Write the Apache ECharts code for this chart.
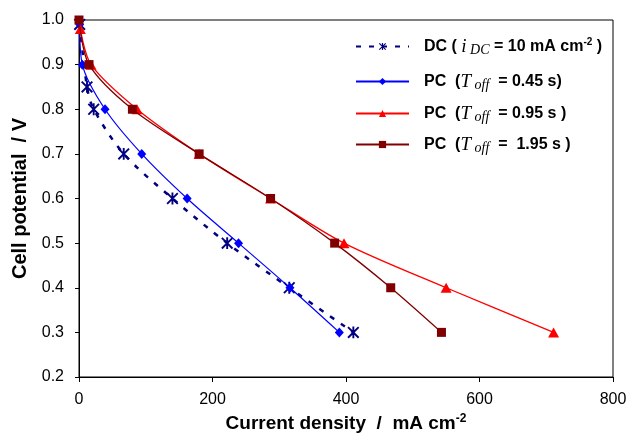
<!DOCTYPE html>
<html><head><meta charset="utf-8">
<script src="https://cdn.jsdelivr.net/npm/echarts@6/dist/echarts.min.js"></script>
<style>html,body{margin:0;padding:0;background:#fff}#c{width:628px;height:433px}</style>
</head><body><div id="c"></div>
<script>
// Data (current density mA cm^-2, cell potential V)
const dcX   = [1, 12, 22, 67, 140, 222, 315, 411];
const dcY   = [0.99, 0.85, 0.80, 0.70, 0.60, 0.50, 0.40, 0.30];
const pc045X = [1, 5, 39, 94, 162, 239, 316, 390];
const pc045Y = [0.99, 0.90, 0.80, 0.70, 0.60, 0.50, 0.40, 0.30];
const pc095X = [2, 18, 87, 180, 287, 397, 550, 711];
const pc095Y = [0.98, 0.90, 0.80, 0.70, 0.60, 0.50, 0.40, 0.30];
const pc195X = [0, 15, 80, 180, 287, 383, 467, 543];
const pc195Y = [1.00, 0.90, 0.80, 0.70, 0.60, 0.50, 0.40, 0.30];
const xTicks = [0, 200, 400, 600, 800];
const yTicks = [0.2, 0.3, 0.4, 0.5, 0.6, 0.7, 0.8, 0.9, 1.0];

const zip = (a, b) => a.map((v, i) => [v, b[i]]);
const asterisk = 'path://M4.2,0 L5.8,0 L5.8,10 L4.2,10 Z M1.07,-0.07 L10.07,8.93 L8.93,10.07 L-0.07,1.07 Z M10.07,1.07 L1.07,10.07 L-0.07,8.93 L8.93,-0.07 Z';
const FONT = '"Liberation Sans", Arial, sans-serif';
const SERIF = '"Liberation Serif", "Times New Roman", serif';

const rich = {
  b: {fontFamily: FONT, fontWeight: 'bold', fontSize: 16, color: '#000'},
  it: {fontFamily: SERIF, fontStyle: 'italic', fontSize: 19, color: '#000'},
  sub: {fontFamily: SERIF, fontStyle: 'italic', fontSize: 14, color: '#000', padding: [7, 0, 0, 0]},
  sup: {fontFamily: FONT, fontWeight: 'bold', fontSize: 10, color: '#000', padding: [0, 0, 9, 0]}
};
const labels = {
  'DC': '{b|DC ( }{it|i}{sub| DC}{b| = 10 mA cm}{sup|-2}{b| )}',
  'PC045': '{b|PC  (}{it|T}{sub| off}{b|  = 0.45 s)}',
  'PC095': '{b|PC  (}{it|T}{sub| off}{b|  = 0.95 s )}',
  'PC195': '{b|PC  (}{it|T}{sub| off}{b|  =  1.95 s )}'
};
const legendTops = [37, 72, 104, 135];
const names = ['DC', 'PC045', 'PC095', 'PC195'];

const chart = echarts.init(document.getElementById('c'));
chart.setOption({
  animation: false,
  backgroundColor: '#fff',
  grid: {left: 79, right: 15, top: 20, bottom: 56, show: true, borderColor: '#000', borderWidth: 1,
         backgroundColor: 'transparent', containLabel: false, outerBoundsMode: 'none'},
  legend: names.map((n, i) => ({
    data: [n], left: 355, top: legendTops[i], padding: 0,
    itemWidth: 53, itemHeight: 9, orient: 'vertical',
    formatter: (nm) => labels[nm],
    textStyle: {rich: rich, padding: [0, 0, 0, 10]}
  })),
  xAxis: {
    type: 'value', min: 0, max: 800, interval: 200,
    axisLine: {lineStyle: {color: '#000', width: 1}},
    axisTick: {show: true, length: 5, lineStyle: {color: '#000'}},
    splitLine: {show: false},
    axisLabel: {fontFamily: FONT, fontSize: 16, color: '#000', margin: 15},
    name: '{t|Current density  /  mA cm}{s|-2}',
    nameLocation: 'middle', nameGap: 34,
    nameTextStyle: {rich: {
      t: {fontFamily: FONT, fontWeight: 'bold', fontSize: 19, color: '#000'},
      s: {fontFamily: FONT, fontWeight: 'bold', fontSize: 12, color: '#000', padding: [0, 0, 10, 0]}
    }}
  },
  yAxis: {
    type: 'value', min: 0.2, max: 1.0, interval: 0.1,
    axisLine: {show: true, lineStyle: {color: '#000', width: 1}},
    axisTick: {show: true, length: 4, lineStyle: {color: '#000'}},
    splitLine: {show: false},
    axisLabel: {fontFamily: FONT, fontSize: 16, color: '#000', margin: 15, formatter: v => v.toFixed(1)},
    name: 'Cell potential  / V', nameLocation: 'middle', nameGap: 48,
    nameTextStyle: {fontFamily: FONT, fontWeight: 'bold', fontSize: 20, color: '#000'}
  },
  series: [
    {name: 'DC', type: 'line', data: zip(dcX, dcY), smooth: 0.3,
     symbol: asterisk, symbolSize: 12,
     itemStyle: {color: '#000080'},
     lineStyle: {color: '#000080', width: 2.5, type: [5, 8]}, z: 3},
    {name: 'PC045', type: 'line', data: zip(pc045X, pc045Y), smooth: 0.3,
     symbol: 'diamond', symbolSize: [9, 10],
     itemStyle: {color: '#0000FF'}, lineStyle: {color: '#0000FF', width: 1.2}, z: 4},
    {name: 'PC095', type: 'line', data: zip(pc095X, pc095Y), smooth: 0.3,
     symbol: 'triangle', symbolSize: [11, 10],
     itemStyle: {color: '#FF0000'}, lineStyle: {color: '#FF0000', width: 1.3}, z: 4},
    {name: 'PC195', type: 'line', data: zip(pc195X, pc195Y), smooth: 0.3,
     symbol: 'rect', symbolSize: 9,
     itemStyle: {color: '#800000'}, lineStyle: {color: '#800000', width: 1.3}, z: 5}
  ]
});
</script></body></html>
